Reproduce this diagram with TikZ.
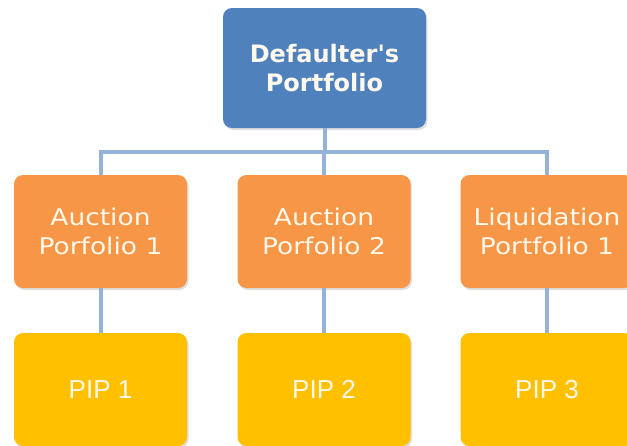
\documentclass[tikz,border=0pt]{standalone}
\usepackage{fontspec}
\usetikzlibrary{shadows}
\newfontfamily\headfont[FakeStretch=1.15]{DejaVu Sans}
\newfontfamily\topfont{DejaVu Sans}
\newfontfamily\pipfont{Liberation Sans}
\definecolor{topblue}{HTML}{4F81BD}
\definecolor{portorange}{HTML}{F79646}
\definecolor{pipyellow}{HTML}{FFC000}
\definecolor{linkblue}{HTML}{95B3D7}
\definecolor{boxtext}{HTML}{FFF8EC}

\begin{document}
\begin{tikzpicture}[x=1pt, y=-1pt,
		box/.style={rounded corners=9pt, align=center, text=boxtext, inner sep=0pt,
			drop shadow={opacity=0.25, shadow xshift=1.5pt, shadow yshift=-2pt}},
		topbox/.style={box, fill=topblue, minimum width=203pt, minimum height=120pt,
			font=\topfont\bfseries\fontsize{24}{29}\selectfont},
		portbox/.style={box, fill=portorange, minimum width=173pt, minimum height=113pt,
			font=\headfont\fontsize{23}{29}\selectfont},
		pipbox/.style={box, fill=pipyellow, minimum width=173pt, minimum height=113pt,
			font=\pipfont\fontsize{26}{30}\selectfont},
		link/.style={draw=linkblue, line width=4pt}]
		\useasboundingbox (0,0) rectangle (627,445);

		% Boxes
		\node[topbox] (dp) at (324.5,68) {Defaulter's\\Portfolio};
		\node[portbox] (ap1) at (100.5,231.5) {Auction\\Porfolio 1};
		\node[portbox] (ap2) at (324,231.5) {Auction\\Porfolio 2};
		\node[portbox] (lp1) at (547,231.5) {Liquidation\\Portfolio 1};
		\node[pipbox] (pip1) at (100.5,389.5) {PIP 1};
		\node[pipbox] (pip2) at (324,389.5) {PIP 2};
		\node[pipbox] (pip3) at (547,389.5) {PIP 3};

		% Connectors
		\draw[link] (dp.south) -- ++(0,24) -| (ap1.north);
		\draw[link] (dp.south) -- ++(0,24) -| (ap2.north);
		\draw[link] (dp.south) -- ++(0,24) -| (lp1.north);
		\draw[link] (ap1.south) -- (pip1.north);
		\draw[link] (ap2.south) -- (pip2.north);
		\draw[link] (lp1.south) -- (pip3.north);
	\end{tikzpicture}
\end{document}
